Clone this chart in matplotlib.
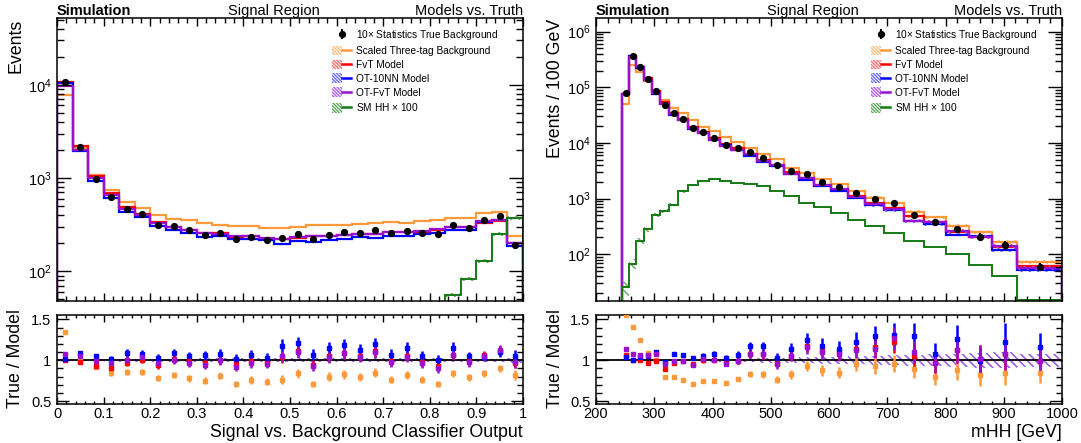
import numpy as np
import matplotlib
matplotlib.use('Agg')
import matplotlib.pyplot as plt
from matplotlib.patches import Patch
from matplotlib.lines import Line2D
from matplotlib.legend_handler import HandlerTuple
from matplotlib.ticker import LogLocator, MultipleLocator, FuncFormatter, NullFormatter

plt.rcParams['font.family'] = ['Liberation Sans', 'DejaVu Sans']
plt.rcParams['mathtext.fontset'] = 'custom'
plt.rcParams['mathtext.rm'] = 'Liberation Sans'
plt.rcParams['mathtext.it'] = 'Liberation Sans:italic'
plt.rcParams['hatch.linewidth'] = 1.0

# ---- left: classifier output, 30 bins ----
edges_l = np.linspace(0, 1, 31)
true_l = [10600, 2130, 984, 626, 469, 415, 316, 303, 275, 247, 258, 220, 233, 215, 228,
          254, 224, 247, 264, 259, 275, 259, 272, 259, 254, 316, 291, 352, 388, 193]
three_l = [7850, 2100, 1070, 740, 550, 480, 405, 368, 352, 330, 315, 305, 305, 288, 293,
           300, 310, 310, 317, 324, 330, 336, 333, 345, 358, 375, 370, 417, 432, 237]
fvt_l = [10600, 2180, 1058, 696, 486, 413, 338, 300, 278, 255, 255, 232, 236, 220, 220,
         230, 238, 238, 243, 248, 250, 263, 262, 266, 278, 296, 295, 333, 346, 199]
ot10_l = [10400, 1935, 940, 612, 435, 383, 309, 279, 258, 233, 236, 220, 222, 214, 195,
          210, 207, 214, 224, 231, 228, 240, 237, 254, 260, 278, 280, 340, 352, 186]
otfvt_l = [9800, 2000, 997, 654, 470, 402, 329, 299, 279, 259, 252, 239, 239, 226, 222,
           232, 240, 240, 245, 251, 252, 265, 262, 271, 284, 296, 298, 343, 352, 200]
hh_l = [0.2, 0.3, 0.4, 0.5, 0.6, 0.7, 0.9, 1.0, 1.2, 1.4, 1.6, 1.8, 2.0, 2.3, 2.6,
        3.0, 3.5, 4.0, 5, 6, 8, 11, 16, 24, 36, 56, 83, 129, 249, 376]

r_three_l = [1.35, 1.0, 0.92, 0.84, 0.86, 0.86, 0.78, 0.82, 0.78, 0.75, 0.81, 0.71, 0.76, 0.74, 0.765,
             0.84, 0.71, 0.80, 0.83, 0.80, 0.85, 0.765, 0.82, 0.765, 0.71, 0.84, 0.79, 0.84, 0.90, 0.82]
r_fvt_l = [1.0, 0.975, 0.93, 0.90, 0.97, 1.01, 0.945, 1.02, 0.99, 0.97, 1.01, 0.955, 0.99, 0.975, 1.04,
           1.11, 0.945, 1.05, 1.09, 1.05, 1.11, 0.99, 1.05, 0.975, 0.925, 1.07, 0.99, 1.06, 1.12, 0.97]
r_ot10_l = [1.02, 1.084, 1.05, 1.02, 1.09, 1.08, 1.03, 1.09, 1.05, 1.06, 1.08, 1.02, 1.06, 1.03, 1.18,
            1.21, 1.07, 1.155, 1.185, 1.13, 1.2, 1.07, 1.155, 1.05, 1.01, 1.155, 1.05, 1.04, 1.10, 1.05]
r_otfvt_l = [1.08, 1.05, 0.99, 0.97, 1.01, 1.04, 0.97, 1.01, 0.97, 0.945, 1.0, 0.92, 0.97, 0.96, 1.05,
             1.10, 0.93, 1.04, 1.085, 1.04, 1.10, 0.975, 1.04, 0.97, 0.90, 1.07, 0.975, 1.05, 1.13, 0.975]
err_l = [0.01, 0.02, 0.03, 0.035, 0.04, 0.045, 0.05, 0.05, 0.055, 0.055, 0.055, 0.06, 0.06, 0.06, 0.065,
         0.065, 0.06, 0.065, 0.065, 0.06, 0.065, 0.06, 0.06, 0.06, 0.06, 0.055, 0.055, 0.05, 0.05, 0.07]
band_l = [0.004, 0.008, 0.012, 0.015, 0.018, 0.018, 0.02, 0.02, 0.02, 0.022, 0.022, 0.022, 0.022, 0.022, 0.022,
          0.022, 0.022, 0.022, 0.022, 0.022, 0.022, 0.022, 0.022, 0.022, 0.022, 0.02, 0.02, 0.02, 0.02, 0.025]
hhband_l = [0.05] * 30

# ---- right: mHH, 29 bins ----
edges_r = np.append(np.geomspace(245, 923, 29), 1000)
true_r = [79000, 362000, 233000, 140000, 84500, 48700, 34000, 27000, 18600, 15600, 12400, 9300, 7950, 6800, 5400,
          3950, 3130, 2730, 1990, 1580, 1250, 975, 815, 504, 372, 283, 206, 147, 60]
three_r = [50000, 253000, 187000, 128000, 84500, 60000, 42500, 34600, 26300, 19200, 16300, 12700, 10500, 8200, 6200,
           5060, 3600, 2920, 2220, 1800, 1370, 1040, 830, 578, 457, 325, 247, 163, 71.8]
fvt_r = [74500, 362000, 233000, 144000, 85400, 54400, 35000, 27300, 19600, 15600, 12300, 9500, 8030, 6320, 5020,
         4070, 2970, 2310, 1780, 1440, 1100, 840, 668, 480, 383, 250, 202, 137, 60.6]
ot10_r = [76000, 362000, 224000, 133000, 77000, 49700, 31600, 25300, 18100, 14800, 11500, 9000, 7440, 5810, 4620,
          3820, 2750, 2190, 1690, 1390, 1020, 753, 619, 388, 346, 225, 208, 120, 51.7]
otfvt_r = [75700, 357000, 230000, 135000, 78900, 50000, 33200, 25900, 18600, 15200, 11500, 8800, 7600, 6200, 4800,
           3950, 2800, 2310, 1730, 1470, 1070, 793, 645, 400, 372, 264, 206, 139, 56.7]
hh_r = [25.6, 67, 175, 283, 504, 602, 771, 1340, 1760, 2070, 2220, 2070, 1910, 1810, 1650,
        1370, 1120, 849, 710, 540, 410, 325, 240, 175, 132, 99, 65, 41, 15]

r_three_r = [1.56, 1.405, 1.25, 1.09, 1.0, 0.80, 0.79, 0.76, 0.71, 0.745, 0.75, 0.725, 0.77, 0.835, 0.83,
             0.76, 0.83, 0.93, 0.88, 0.845, 0.95, 0.93, 0.96, 0.895, 0.80, 0.88, 0.82, 0.85, 0.845]
r_fvt_r = [1.06, 1.0, 1.0, 0.97, 0.99, 0.895, 0.97, 0.99, 0.95, 1.0, 1.01, 0.98, 0.99, 1.076, 1.076,
           0.97, 1.055, 1.18, 1.12, 1.1, 1.14, 1.16, 1.22, 1.05, 0.97, 1.13, 1.02, 1.076, 0.99]
r_ot10_r = [1.04, 1.0, 1.04, 1.055, 1.097, 0.98, 1.076, 1.068, 1.025, 1.055, 1.076, 1.034, 1.068, 1.17, 1.17,
            1.034, 1.14, 1.245, 1.18, 1.14, 1.23, 1.295, 1.316, 1.3, 1.076, 1.257, 0.99, 1.23, 1.16]
r_otfvt_r = [1.14, 1.076, 1.063, 1.063, 1.076, 0.95, 0.99, 0.99, 0.937, 1.02, 1.01, 0.96, 0.99, 1.076, 1.076,
             0.95, 1.055, 1.16, 1.10, 1.076, 1.13, 1.14, 1.27, 1.1, 0.97, 1.13, 1.02, 1.076, 0.99]
err_r = [0.012, 0.008, 0.01, 0.012, 0.015, 0.018, 0.02, 0.022, 0.025, 0.028, 0.03, 0.035, 0.038, 0.045, 0.05,
         0.055, 0.065, 0.07, 0.075, 0.08, 0.09, 0.1, 0.11, 0.12, 0.13, 0.14, 0.16, 0.18, 0.15]
band_r = [0.006, 0.004, 0.005, 0.006, 0.007, 0.008, 0.009, 0.011, 0.012, 0.014, 0.016, 0.018, 0.02, 0.022, 0.025,
          0.027, 0.03, 0.033, 0.036, 0.04, 0.045, 0.05, 0.055, 0.06, 0.066, 0.072, 0.08, 0.088, 0.075]
hhband_r = [0.3, 0.2, 0.12, 0.1, 0.08, 0.07, 0.06, 0.05, 0.04, 0.04, 0.04, 0.04, 0.04, 0.04, 0.04,
            0.04, 0.04, 0.04, 0.04, 0.04, 0.04, 0.04, 0.04, 0.04, 0.04, 0.04, 0.04, 0.04, 0.04]

labels = ['10$\\times$ Statistics True Background', 'Scaled Three-tag Background', 'FvT Model',
          'OT-10NN Model', 'OT-FvT Model', 'SM HH $\\times$ 100']
C_ORANGE, H_ORANGE = '#ff9a3c', '#ffbf80'
C_RED, H_RED = '#ff0000', '#ff7070'
C_BLUE, H_BLUE = '#0000ff', '#6a6aff'
C_PURP, H_PURP = '#9a10d0', '#b060e0'
C_GREEN, H_GREEN = '#137a13', '#60a860'
HATCH = '\\\\\\\\'
HATCH_LEG = '\\\\\\\\\\\\\\\\\\\\'

W, H = 1081, 443
fig = plt.figure(figsize=(W / 100, H / 100), dpi=100)


def px_axes(x0, x1, y0, y1):
    return fig.add_axes([x0 / W, 1 - y1 / H, (x1 - x0) / W, (y1 - y0) / H])


def style(ax, ratio=False):
    for s in ax.spines.values():
        s.set_linewidth(1.1)
    ax.tick_params(which='both', direction='in', top=True, right=True, labelsize=10.5, width=1.0)
    if ratio:
        ax.tick_params(axis='x', which='major', length=5, pad=2)
        ax.tick_params(axis='x', which='minor', length=2.5)
        ax.tick_params(axis='y', which='major', length=8.5, pad=4)
        ax.tick_params(axis='y', which='minor', length=4.5)
    else:
        ax.tick_params(axis='x', which='major', length=6)
        ax.tick_params(axis='x', which='minor', length=3.5)
        ax.tick_params(axis='y', which='major', length=10, pad=4)
        ax.tick_params(axis='y', which='minor', length=5)


def band_handle(hc, c):
    return (Patch(facecolor='none', edgecolor=hc, hatch=HATCH_LEG, lw=0), Line2D([], [], color=c, lw=1.8))


def top_panel(ax, edges, true, err, models, hh, hhband, band, ylim):
    centers = 0.5 * (edges[:-1] + edges[1:])
    handles = []
    for vals, c, hc in models:
        v = np.asarray(vals, float)
        b = np.asarray(band)
        ax.stairs(v * (1 + b), edges, baseline=v * (1 - b), fill=True, facecolor='none',
                  edgecolor=hc, hatch=HATCH, lw=0)
        ax.stairs(v, edges, baseline=1e-3, color=c, lw=1.6)
        handles.append(band_handle(hc, c))
    v = np.asarray(hh, float)
    b = np.asarray(hhband)
    ax.stairs(v * (1 + b), edges, baseline=v * (1 - b), fill=True, facecolor='none',
              edgecolor=H_GREEN, hatch=HATCH, lw=0)
    ax.stairs(v, edges, baseline=1e-3, color=C_GREEN, lw=1.4)
    handles.append(band_handle(H_GREEN, C_GREEN))
    t = np.asarray(true, float)
    data = ax.errorbar(centers, t, yerr=t * np.asarray(err), fmt='o', color='k', ms=4.2,
                       elinewidth=1.4, capsize=0, zorder=5)
    ax.set_yscale('log')
    ax.set_xlim(edges[0] if edges[0] == 0 else 200, edges[-1])
    ax.set_ylim(*ylim)
    ax.yaxis.set_major_locator(LogLocator(base=10, numticks=20))
    ax.yaxis.set_minor_locator(LogLocator(base=10, subs=np.arange(2, 10), numticks=200))
    ax.yaxis.set_major_formatter(FuncFormatter(lambda val, p: r'$10^{%d}$' % int(round(np.log10(val)))))
    ax.yaxis.set_minor_formatter(NullFormatter())
    ax.xaxis.set_major_formatter(NullFormatter())
    ax.legend([data] + handles, labels, loc='upper left', bbox_to_anchor=(0.59, 0.965), frameon=False,
              fontsize=7.3, handlelength=1.9, handleheight=1.1, handletextpad=0.45, labelspacing=0.36,
              borderpad=0, borderaxespad=0, handler_map={tuple: HandlerTuple(ndivide=None, pad=0)})
    ax.text(0, 1.012, 'Simulation', transform=ax.transAxes, fontsize=10.5, fontweight='bold',
            ha='left', va='baseline')
    ax.text(0.465, 1.012, 'Signal Region', transform=ax.transAxes, fontsize=10.5, ha='center', va='baseline')
    ax.text(1.0, 1.012, 'Models vs. Truth', transform=ax.transAxes, fontsize=10.5, ha='right', va='baseline')


def ratio_panel(ax, edges, ratios, err, band, xlim):
    centers = 0.5 * (edges[:-1] + edges[1:])
    b = np.asarray(band)
    ax.stairs(1 + 1.1 * b, edges, baseline=1 - 1.1 * b, fill=True, facecolor='none',
              edgecolor=H_BLUE, hatch=HATCH, lw=0)
    ax.stairs(1 + b, edges, baseline=1 - b, fill=True, facecolor='none',
              edgecolor=H_PURP, hatch=HATCH, lw=0)
    ax.axhline(1, color='k', lw=1.3, zorder=3)
    for r, c in ratios:
        r = np.asarray(r, float)
        ax.errorbar(centers, r, yerr=r * np.asarray(err), fmt='s', ms=2.4, color=c,
                    elinewidth=1.8, capsize=0, zorder=4)
    ax.set_xlim(*xlim)
    ax.set_ylim(0.465, 1.555)
    ax.yaxis.set_major_locator(MultipleLocator(0.5))
    ax.yaxis.set_minor_locator(MultipleLocator(0.1))
    ax.yaxis.set_major_formatter(FuncFormatter(lambda v, p: '%g' % v))


# left
axl = px_axes(57, 523, 18, 301)
style(axl)
top_panel(axl, edges_l, true_l, err_l,
          [(three_l, C_ORANGE, H_ORANGE), (fvt_l, C_RED, H_RED), (ot10_l, C_BLUE, H_BLUE), (otfvt_l, C_PURP, H_PURP)],
          hh_l, hhband_l, band_l, (48, 52000))
axl.xaxis.set_major_locator(MultipleLocator(0.1))
axl.xaxis.set_minor_locator(MultipleLocator(0.02))

axlr = px_axes(57, 523, 315, 404)
style(axlr, ratio=True)
ratio_panel(axlr, edges_l, [(r_three_l, C_ORANGE), (r_fvt_l, C_RED), (r_ot10_l, C_BLUE), (r_otfvt_l, C_PURP)],
            err_l, band_l, (0, 1))
axlr.xaxis.set_major_locator(MultipleLocator(0.1))
axlr.xaxis.set_minor_locator(MultipleLocator(0.02))
axlr.xaxis.set_major_formatter(FuncFormatter(lambda v, p: '%g' % round(v, 2)))
axlr.text(1.0, -0.37, 'Signal vs. Background Classifier Output', transform=axlr.transAxes,
          fontsize=12.8, ha='right', va='baseline')

# right
axr = px_axes(596, 1062, 18, 301)
style(axr)
top_panel(axr, edges_r, true_r, err_r,
          [(three_r, C_ORANGE, H_ORANGE), (fvt_r, C_RED, H_RED), (ot10_r, C_BLUE, H_BLUE), (otfvt_r, C_PURP, H_PURP)],
          hh_r, hhband_r, band_r, (14.4, 1.76e6))
axr.xaxis.set_major_locator(MultipleLocator(100))
axr.xaxis.set_minor_locator(MultipleLocator(20))

axrr = px_axes(596, 1062, 315, 404)
style(axrr, ratio=True)
ratio_panel(axrr, edges_r, [(r_three_r, C_ORANGE), (r_fvt_r, C_RED), (r_ot10_r, C_BLUE), (r_otfvt_r, C_PURP)],
            err_r, band_r, (200, 1000))
axrr.xaxis.set_major_locator(MultipleLocator(100))
axrr.xaxis.set_minor_locator(MultipleLocator(20))
axrr.text(1.0, -0.37, 'mHH [GeV]', transform=axrr.transAxes, fontsize=12.8, ha='right', va='baseline')

# axis titles
fig.text(15.5 / W, 1 - 19 / H, 'Events', rotation=90, ha='center', va='top', fontsize=12.8)
fig.text(15.5 / W, 1 - 359 / H, 'True / Model', rotation=90, ha='center', va='center', fontsize=12.8)
fig.text(556 / W, 1 - 19 / H, 'Events / 100 GeV', rotation=90, ha='center', va='top', fontsize=12.8)
fig.text(556 / W, 1 - 359 / H, 'True / Model', rotation=90, ha='center', va='center', fontsize=12.8)

fig.savefig('out.png', dpi=100)
